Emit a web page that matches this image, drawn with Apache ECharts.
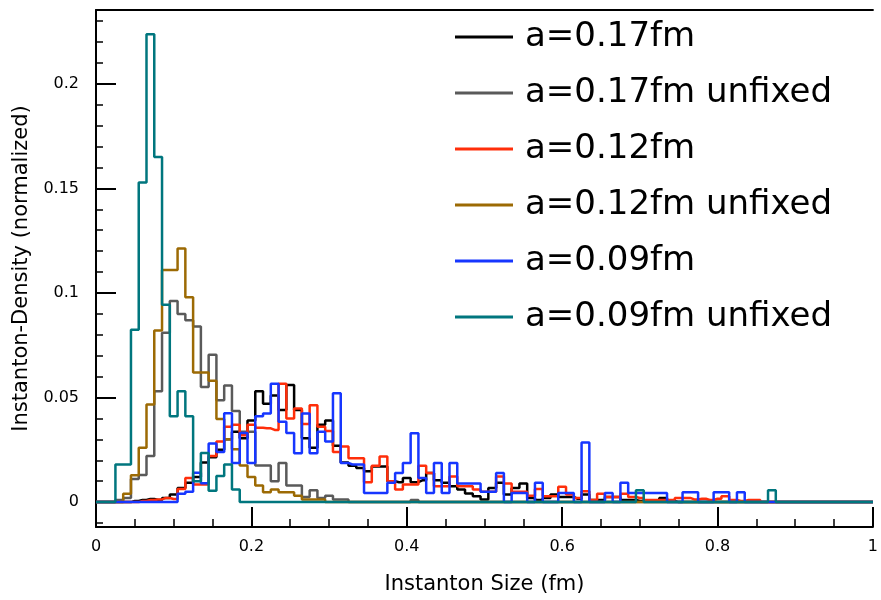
<!DOCTYPE html>
<html>
<head>
<meta charset="utf-8">
<title>Instanton size distribution</title>
<script src="https://cdn.jsdelivr.net/npm/echarts@6/dist/echarts.min.js"></script>
<style>
  html, body { margin: 0; padding: 0; background: #fff; }
  #chart { width: 881px; height: 600px; }
</style>
</head>
<body>
<div id="chart"></div>
<script>
// histogram bins of width 0.01 fm, centres at 0.00 ... 1.00
const binCentres = [];
for (let k = 0; k <= 100; k++) binCentres.push(+(k * 0.01).toFixed(2));

const seriesNames = [
  "a=0.17fm", "a=0.17fm unfixed",
  "a=0.12fm", "a=0.12fm unfixed",
  "a=0.09fm", "a=0.09fm unfixed"
];
const seriesColors = ["#000000", "#5a5a5a", "#ff2e0a", "#9c6a04", "#1636ff", "#00767e"];

const a017 = [
  0, 0, 0, 0, 0, 0.0005, 0.001, 0.0015, 0.001, 0.002,
  0.0036, 0.0068, 0.0092, 0.012, 0.019, 0.0215, 0.025, 0.030, 0.0337, 0.0305,
  0.039, 0.053, 0.047, 0.051, 0.044, 0.056, 0.044, 0.0305, 0.026, 0.037,
  0.039, 0.027, 0.019, 0.0174, 0.0163, 0.0147, 0.017, 0.017, 0.010, 0.0095,
  0.0115, 0.0095, 0.0104, 0.0139, 0.0104, 0.0092, 0.0076, 0.006, 0.0041, 0.0028,
  0.0013, 0.0068, 0.0092, 0.0036, 0.0068, 0.0089, 0.002, 0.001, 0.002, 0.0036,
  0.0025, 0.0025, 0.0016, 0.0036, 0.001, 0.001, 0.0025, 0.0025, 0.001, 0.001,
  0.0005, 0.0005, 0.0005, 0.002, 0.0005, 0, 0, 0, 0, 0,
  0, 0, 0, 0, 0, 0, 0, 0, 0, 0,
  0, 0, 0, 0, 0, 0, 0, 0, 0, 0,
  0
];

const a017unfixed = [
  0, 0, 0, 0.001, 0.002, 0.011, 0.013, 0.022, 0.053, 0.081,
  0.0962, 0.090, 0.087, 0.084, 0.055, 0.0705, 0.0487, 0.0558, 0.0436, 0.0337,
  0.0337, 0.0175, 0.0175, 0.010, 0.0187, 0.008, 0.008, 0.0025, 0.0057, 0.002,
  0.003, 0.0013, 0.0013, 0, 0, 0, 0, 0, 0, 0,
  0, 0.001, 0, 0, 0, 0, 0, 0, 0, 0,
  0, 0, 0, 0, 0, 0, 0, 0, 0, 0,
  0, 0, 0, 0, 0, 0, 0, 0, 0, 0,
  0, 0, 0, 0, 0, 0, 0, 0, 0, 0,
  0, 0, 0, 0, 0, 0, 0, 0, 0, 0,
  0, 0, 0, 0, 0, 0, 0, 0, 0, 0,
  0
];

const a012 = [
  0, 0, 0, 0, 0, 0, 0.0005, 0.001, 0.0013, 0.002,
  0.0015, 0.0063, 0.0115, 0.0084, 0.0084, 0.022, 0.029, 0.036, 0.037, 0.032,
  0.037, 0.0355, 0.0353, 0.0345, 0.0566, 0.040, 0.0448, 0.0373, 0.0463, 0.036,
  0.034, 0.024, 0.0266, 0.021, 0.021, 0.0095, 0.0174, 0.0218, 0.010, 0.006,
  0.0084, 0.0084, 0.0174, 0.0139, 0.0076, 0.0076, 0.0123, 0.0076, 0.0076, 0.006,
  0.005, 0.005, 0.0123, 0.0089, 0.005, 0.005, 0.003, 0.0063, 0.0028, 0.0028,
  0.0073, 0.0036, 0.002, 0.0052, 0.001, 0.004, 0.0025, 0.0025, 0.004, 0.0025,
  0.002, 0.001, 0.001, 0.001, 0.001, 0.002, 0.002, 0.0013, 0.0016, 0.001,
  0.0016, 0.0028, 0.001, 0.0005, 0.001, 0.001, 0, 0, 0, 0,
  0, 0, 0, 0, 0, 0, 0, 0, 0, 0,
  0
];

const a012unfixed = [
  0, 0, 0, 0, 0.004, 0.0128, 0.026, 0.0467, 0.082, 0.111,
  0.111, 0.1213, 0.098, 0.062, 0.062, 0.058, 0.0397, 0.030, 0.0253, 0.0175,
  0.012, 0.008, 0.0047, 0.006, 0.0047, 0.0047, 0.003, 0.0013, 0.0013, 0.0013,
  0, 0, 0, 0, 0, 0, 0, 0, 0, 0,
  0, 0, 0, 0, 0, 0, 0, 0, 0, 0,
  0, 0, 0, 0, 0, 0, 0, 0, 0, 0,
  0, 0, 0, 0, 0, 0, 0, 0, 0, 0,
  0, 0, 0, 0, 0, 0, 0, 0, 0, 0,
  0, 0, 0, 0, 0, 0, 0, 0, 0, 0,
  0, 0, 0, 0, 0, 0, 0, 0, 0, 0,
  0
];

const a009 = [
  0, 0, 0, 0, 0, 0, 0, 0, 0, 0,
  0, 0.004, 0.005, 0.014, 0.009, 0.028, 0.024, 0.0425, 0.0187, 0.033,
  0.0187, 0.041, 0.0424, 0.0566, 0.0384, 0.033, 0.0234, 0.0424, 0.0234, 0.0337,
  0.029, 0.052, 0.0187, 0.018, 0.018, 0.0044, 0.0044, 0.0044, 0.0092, 0.0139,
  0.0187, 0.0329, 0.0115, 0.0044, 0.0187, 0.0044, 0.0187, 0.0089, 0.0089, 0.0089,
  0.005, 0.005, 0.0139, 0, 0.0044, 0.0044, 0, 0.0092, 0, 0,
  0.0044, 0.0044, 0, 0.0285, 0, 0, 0.0044, 0, 0.0092, 0.0044,
  0.0044, 0.0044, 0.0044, 0.0044, 0, 0, 0.0047, 0.0047, 0, 0,
  0.0047, 0.0047, 0, 0.0047, 0, 0, 0, 0, 0, 0,
  0, 0, 0, 0, 0, 0, 0, 0, 0, 0,
  0
];

const a009unfixed = [
  0, 0, 0, 0.018, 0.018, 0.0824, 0.1528, 0.2237, 0.165, 0.0944,
  0.041, 0.053, 0.041, 0.010, 0.0235, 0.0054, 0.0125, 0.018, 0.006, 0,
  0, 0, 0, 0, 0, 0, 0, 0, 0, 0,
  0, 0, 0, 0, 0, 0, 0, 0, 0, 0,
  0, 0, 0, 0, 0, 0, 0, 0, 0, 0,
  0, 0, 0, 0, 0, 0, 0, 0, 0, 0,
  0, 0, 0, 0, 0, 0, 0, 0, 0, 0,
  0.0057, 0, 0, 0, 0, 0, 0, 0, 0, 0,
  0, 0, 0, 0, 0, 0, 0, 0.0057, 0, 0,
  0, 0, 0, 0, 0, 0, 0, 0, 0, 0,
  0
];

const yMajorTicks = [0, 0.05, 0.1, 0.15, 0.2];
const yMinorTicks = [-0.01, 0.01, 0.02, 0.03, 0.04, 0.06, 0.07, 0.08, 0.09, 0.11, 0.12,
  0.13, 0.14, 0.16, 0.17, 0.18, 0.19, 0.21, 0.22, 0.23];

const allValues = [a017, a017unfixed, a012, a012unfixed, a009, a009unfixed];
const FONT = "DejaVu Sans";

function toPairs(values) {
  return values.map((v, i) => [binCentres[i], v]);
}

const chart = echarts.init(document.getElementById("chart"));

const option = {
  animation: false,
  backgroundColor: "#ffffff",
  textStyle: { fontFamily: FONT },
  grid: { left: 96, right: 0, top: 10, bottom: 69, containLabel: false },
  legend: {
    orient: "vertical",
    left: 455,
    top: 20,
    padding: 0,
    icon: "rect",
    itemWidth: 58,
    itemHeight: 3,
    itemGap: 22,
    textStyle: { fontFamily: FONT, fontSize: 34, lineHeight: 34, color: "#000", padding: [0, 0, 0, 7] },
    data: seriesNames
  },
  xAxis: [{
    type: "value",
    position: "bottom",
    min: 0,
    max: 1,
    interval: 0.2,
    name: "Instanton Size (fm)",
    nameLocation: "middle",
    nameGap: 47,
    nameTextStyle: { fontFamily: FONT, fontSize: 21, color: "#000" },
    axisLine: { show: true, onZero: false, lineStyle: { color: "#000", width: 2 } },
    axisTick: { show: true, inside: true, length: 20, lineStyle: { color: "#000", width: 2 } },
    minorTick: { show: true, splitNumber: 4, length: 8, lineStyle: { color: "#000", width: 1.5 } },
    axisLabel: { fontFamily: FONT, fontSize: 16, color: "#000", margin: 12 },
    splitLine: { show: false },
    minorSplitLine: { show: false }
  }, {
    type: "value",
    position: "top",
    min: 0,
    max: 1,
    axisLine: { show: true, onZero: false, lineStyle: { color: "#000", width: 2 } },
    axisTick: { show: false },
    axisLabel: { show: false },
    splitLine: { show: false }
  }],
  yAxis: [{
    type: "value",
    position: "left",
    min: -0.0119,
    max: 0.2353,
    name: "Instanton-Density (normalized)",
    nameLocation: "middle",
    nameRotate: 90,
    nameGap: 63,
    nameTextStyle: { fontFamily: FONT, fontSize: 21, color: "#000" },
    axisLine: { show: true, onZero: false, lineStyle: { color: "#000", width: 2 } },
    axisTick: { show: true, inside: true, length: 20, customValues: yMajorTicks, lineStyle: { color: "#000", width: 2 } },
    axisLabel: { fontFamily: FONT, fontSize: 16, color: "#000", margin: 17, customValues: yMajorTicks },
    splitLine: { show: false }
  }, {
    type: "value",
    position: "left",
    min: -0.0119,
    max: 0.2353,
    axisLine: { show: false },
    axisTick: { show: true, inside: true, length: 7, customValues: yMinorTicks, lineStyle: { color: "#000", width: 1.5 } },
    axisLabel: { show: false },
    splitLine: { show: false }
  }],
  series: seriesNames.map((name, i) => ({
    name: name,
    type: "line",
    step: "middle",
    xAxisIndex: 0,
    yAxisIndex: 0,
    showSymbol: false,
    symbol: "none",
    color: seriesColors[i],
    lineStyle: { color: seriesColors[i], width: 2.5 },
    data: toPairs(allValues[i])
  }))
};

chart.setOption(option);
</script>
</body>
</html>
